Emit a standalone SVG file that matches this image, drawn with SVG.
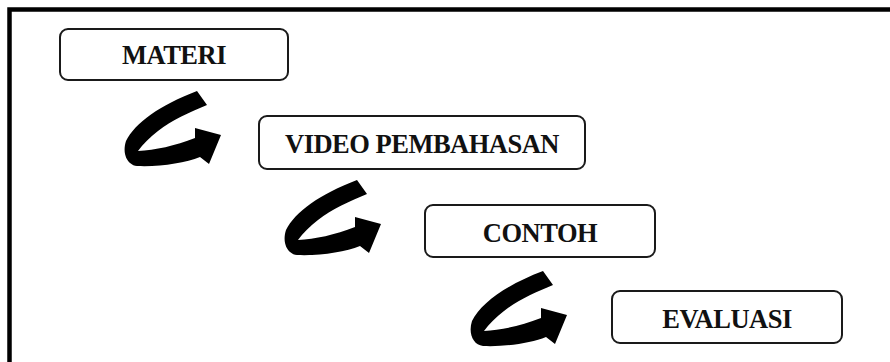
<svg xmlns="http://www.w3.org/2000/svg" width="890" height="362" viewBox="0 0 890 362">
  <defs>
    <style>
      .frame { fill: none; stroke: #000; stroke-width: 4.5; }
      .box { fill: #fff; stroke: #1a1a1a; stroke-width: 2; }
      .label { font-family: "Liberation Serif", "Times New Roman", serif; font-weight: bold; font-size: 26.5px; letter-spacing: -0.5px; fill: #111; text-anchor: middle; }
      .curl { fill: #000; }
    </style>
    <!-- curled arrow: tail at upper right, loops round on the left, points right -->
    <path id="curl" d="M197,91 L207,105 C190,112 172,120 158,131 C150,137 143,144 138,151 C155,150 175,146 195,138 L195,128 L221,135 L209,164 L200,157 C185,163 160,167 137,166 C127,165 122,153 126,141 C135,123 160,105 197,91 Z"/>
  </defs>
  <rect width="890" height="362" fill="#fff"/>
  <rect class="frame" x="9.5" y="9.5" width="900" height="400"/>

  <g id="connectors">
    <use href="#curl" class="curl"/>
    <use href="#curl" class="curl" transform="translate(160,89)"/>
    <use href="#curl" class="curl" transform="translate(346,180)"/>
  </g>

  <g id="materi">
    <rect class="box" x="60" y="29" width="228" height="51" rx="8"/>
    <text class="label" x="174" y="64">MATERI</text>
  </g>
  <g id="video-pembahasan">
    <rect class="box" x="259" y="116" width="326" height="53" rx="8"/>
    <text class="label" x="422" y="152.5">VIDEO PEMBAHASAN</text>
  </g>
  <g id="contoh">
    <rect class="box" x="425" y="205" width="230" height="52" rx="8"/>
    <text class="label" x="540" y="242">CONTOH</text>
  </g>
  <g id="evaluasi">
    <rect class="box" x="612" y="291" width="230" height="52" rx="8"/>
    <text class="label" x="727" y="327.5">EVALUASI</text>
  </g>
</svg>
